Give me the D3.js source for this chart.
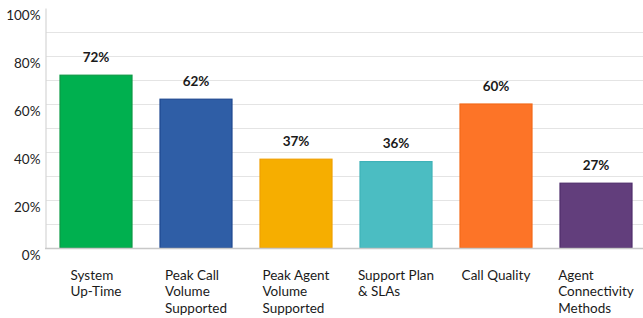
<!DOCTYPE html>
<html>
<head>
<meta charset="utf-8">
<script src="https://cdn.jsdelivr.net/npm/d3@7"></script>
<style>
  body { margin: 0; background: #fff; }
  svg { display: block; font-family: Lato, "Open Sans", sans-serif; }
</style>
</head>
<body>
<div id="chart"></div>
<script>
// chart data
const categories = [
    ["System", "Up-Time"],
    ["Peak Call", "Volume", "Supported"],
    ["Peak Agent", "Volume", "Supported"],
    ["Support Plan", "& SLAs"],
    ["Call Quality"],
    ["Agent", "Connectivity", "Methods"]
];
const values = [72, 62, 37, 36, 60, 27];
const fills = ["#00b04f", "#2f5ea6", "#f6ae00", "#4bbdc2", "#fd7427", "#623e7c"];
const strokes = ["#0a9a45", "#1e4890", "#f0a000", "#3fb2b8", "#f46a1a", "#4f2d6c"];
const yTicks = [0, 20, 40, 60, 80, 100];
const gridTicks = [10, 20, 30, 40, 50, 60, 70, 80, 90];

const width = 643, height = 318;
const plotLeft = 46, plotRight = 646, plotTop = 8, base = 248;

const svg = d3.select("#chart")
    .append("svg")
    .attr("width", width)
    .attr("height", height);

const x = d3.scaleBand()
    .domain(d3.range(values.length))
    .range([plotLeft, plotRight])
    .paddingInner(0.28)
    .paddingOuter(0.14);

const y = d3.scaleLinear()
    .domain([0, 100])
    .range([base, plotTop]);

// grid lines every 10%
svg.append("g")
    .selectAll("line")
    .data(gridTicks)
    .enter()
    .append("line")
    .attr("x1", plotLeft)
    .attr("x2", width)
    .attr("y1", d => y(d) + 0.5)
    .attr("y2", d => y(d) + 0.5)
    .attr("stroke", "#e4e4e4")
    .attr("stroke-width", 1.2);

// y axis, labels sit a bit below their line like the original
const yAxis = svg.append("g")
    .attr("transform", `translate(${plotLeft - 0.5},0)`)
    .call(d3.axisLeft(y).tickValues(yTicks).tickSize(0).tickPadding(5).tickFormat(d => d + "%"));
yAxis.select(".domain").attr("stroke", "#d6d6d6").attr("stroke-width", 1.2);
yAxis.selectAll("text")
    .attr("dy", "0.82em")
    .attr("fill", "#222")
    .style("font-size", "13.5px")
    .style("font-family", "Lato, sans-serif");

// bars
svg.append("g")
    .selectAll("rect")
    .data(values)
    .enter()
    .append("rect")
    .attr("x", (d, i) => x(i))
    .attr("y", d => y(d))
    .attr("width", x.bandwidth())
    .attr("height", d => base - y(d))
    .attr("fill", (d, i) => fills[i])
    .attr("stroke", (d, i) => strokes[i])
    .attr("stroke-width", 1.2);

// baseline
svg.append("line")
    .attr("x1", plotLeft - 1)
    .attr("x2", width)
    .attr("y1", base + 0.5)
    .attr("y2", base + 0.5)
    .attr("stroke", "#c8c8c8")
    .attr("stroke-width", 1.5);

// value labels
svg.append("g")
    .selectAll("text")
    .data(values)
    .enter()
    .append("text")
    .attr("x", (d, i) => x(i) + x.bandwidth() / 2)
    .attr("y", d => y(d) - 18)
    .attr("dy", "0.35em")
    .attr("text-anchor", "middle")
    .attr("fill", "#1a1a1a")
    .style("font-size", "13.5px")
    .style("font-weight", "bold")
    .text(d => d + "%");

// category labels: left aligned block centred under each bar
categories.forEach((lines, i) => {
    const g = svg.append("g");
    const t = g.append("text")
        .attr("fill", "#1a1a1a")
        .style("font-size", "13.5px");
    lines.forEach((ln, j) => {
        t.append("tspan")
            .attr("x", 0)
            .attr("y", 275 + j * 16.5)
            .attr("dy", "0.35em")
            .text(ln);
    });
    const w = t.node().getBBox().width;
    g.attr("transform", `translate(${x(i) + x.bandwidth() / 2 - w / 2},0)`);
});
</script>
</body>
</html>
